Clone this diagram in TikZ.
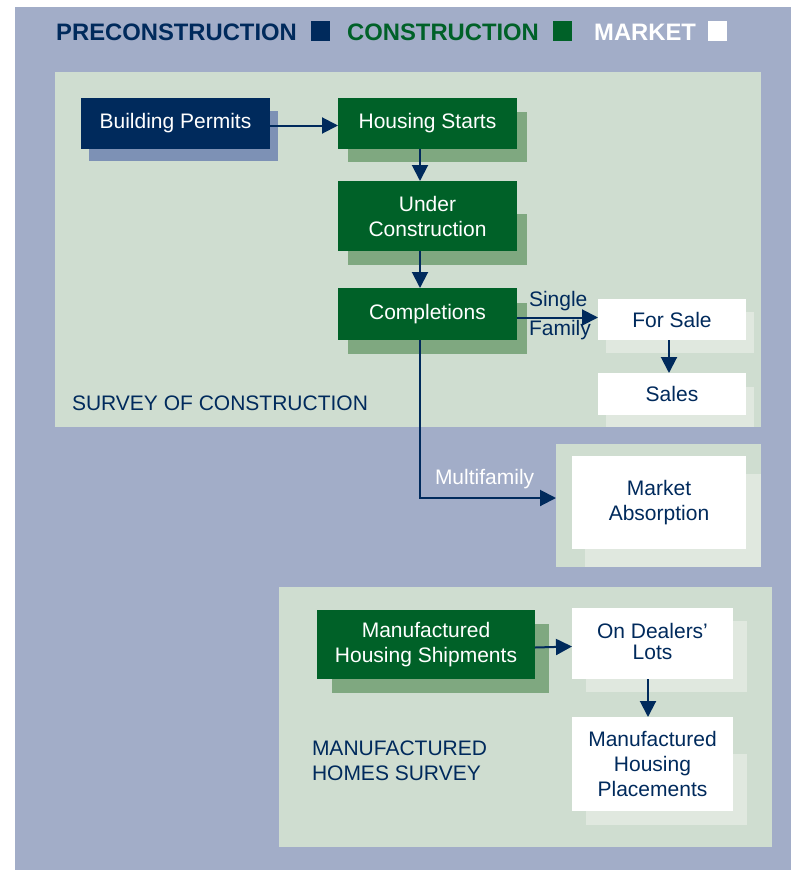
\documentclass[tikz,border=0pt]{standalone}
\usepackage{fontspec}
\setmainfont{Liberation Sans}
\usetikzlibrary{arrows.meta,calc}
\definecolor{navy}{HTML}{002A5C}
\definecolor{dkgreen}{HTML}{006128}
\definecolor{navysh}{HTML}{7D91B5}
\definecolor{greensh}{HTML}{7FA880}
\definecolor{whitesh}{HTML}{E0E8DF}
\definecolor{panel}{HTML}{CFDDD0}
\definecolor{bgblue}{HTML}{A2ADC8}
\tikzset{
  txt/.style={font=\fontsize{21}{25}\selectfont, inner sep=0pt, outer sep=0pt},
  box/.style={txt, rectangle, anchor=north west, align=center},
  navybox/.style={box, fill=navy, text=white},
  greenbox/.style={box, fill=dkgreen, text=white},
  whitebox/.style={box, fill=white, text=navy},
  panelbox/.style={rectangle, anchor=north west, fill=panel, inner sep=0pt, outer sep=0pt},
  legend/.style={font=\fontsize{23.8}{28}\selectfont\bfseries, inner sep=0pt, anchor=base west},
  sq/.style={rectangle, minimum width=19pt, minimum height=20pt, inner sep=0pt, anchor=north west},
  arr/.style={draw=navy, line width=2pt, -{Triangle[length=16pt,width=16pt]}},
}
\begin{document}
\begin{tikzpicture}[x=1pt,y=-1pt]
\useasboundingbox (0,0) rectangle (791,870);
\fill[white] (0,0) rectangle (791,870);
\fill[bgblue] (15,7) rectangle (791,870);

% legend
\node[legend, text=navy] (lpre) at (56,40) {PRECONSTRUCTION};
\node[sq, fill=navy] (sqpre) at (311,21) {};
\node[legend, text=dkgreen] (lcon) at (347,40) {CONSTRUCTION};
\node[sq, fill=dkgreen] (sqcon) at (553,21) {};
\node[legend, text=white] (lmar) at (594,40) {MARKET};
\node[sq, fill=white] (sqmar) at (708,21) {};

% panels
\node[panelbox, minimum width=706pt, minimum height=355pt] (socpanel) at (55,72) {};
\node[panelbox, minimum width=205pt, minimum height=123pt] (mapanel) at (556,444) {};
\node[panelbox, minimum width=493pt, minimum height=260pt] (mhpanel) at (279,587) {};

% shadows
\fill[navysh] (89,111) rectangle (278,161);
\fill[greensh] (348,112) rectangle (527,162);
\fill[greensh] (348,214) rectangle (527,265);
\fill[greensh] (348,303) rectangle (527,354);
\fill[whitesh] (606,312) rectangle (754,353);
\fill[whitesh] (606,387) rectangle (754,427);
\fill[whitesh] (585,474) rectangle (761,567);
\fill[greensh] (332,624) rectangle (549,693);
\fill[whitesh] (586,621) rectangle (747,692);
\fill[whitesh] (586,754) rectangle (747,825);

% boxes
\node[navybox, minimum width=189pt, minimum height=51pt] (bp) at (81,98) {Building Permits};
\node[greenbox, minimum width=179pt, minimum height=51pt] (hs) at (338,98) {Housing Starts};
\node[greenbox, minimum width=179pt, minimum height=70pt] (uc) at (338,181) {Under\\Construction};
\node[greenbox, minimum width=179pt, minimum height=52pt] (comp) at (338,288) {Completions};
\node[whitebox, minimum width=148pt, minimum height=41pt] (fs) at (598,299) {For Sale};
\node[whitebox, minimum width=148pt, minimum height=42pt] (sales) at (598,373) {Sales};
\node[whitebox, minimum width=174pt, minimum height=93pt] (ma) at (572,456) {Market\\Absorption};
\node[greenbox, minimum width=218pt, minimum height=69pt] (mhs) at (317,610) {Manufactured\\Housing Shipments};
\node[whitebox, minimum width=161pt, minimum height=71pt] (odl) at (572,608) {\raisebox{4pt}{\shortstack{On Dealers'\\[4pt]Lots}}};
\node[whitebox, minimum width=161pt, minimum height=94pt] (mhp) at (572,717) {Manufactured\\Housing\\Placements};

% labels
\node[txt, text=navy, anchor=west] (soc) at (72,403) {SURVEY OF CONSTRUCTION};
\node[txt, text=navy, anchor=west, align=left] (mhsv) at (312,760.5) {MANUFACTURED\\HOMES SURVEY};
\node[txt, text=navy, anchor=west] (single) at (529,301) {Single};
\node[txt, text=navy, anchor=west] (family) at (529,330) {Family};
\node[txt, text=white, anchor=west] (multi) at (435,479) {Multifamily};

% connectors
\draw[arr] ([yshift=-2pt]bp.east) -- ([yshift=-2pt]hs.west);
\draw[arr] ([xshift=-7.5pt]hs.south) -- ([xshift=-7.5pt]uc.north);
\draw[arr] ([xshift=-7.5pt]uc.south) -- ([xshift=-7.5pt]comp.north);
\draw[arr] ([yshift=2pt]comp.east |- fs.west) -- ([yshift=2pt]fs.west);
\draw[arr] ([xshift=-3pt]fs.south) -- ([xshift=-3pt]sales.north);
\draw[arr] ([xshift=-7.5pt]comp.south) |- ([yshift=7.5pt]mapanel.west);
\draw[arr] ([yshift=-3pt]mhs.east) -- ([yshift=-3pt]odl.west);
\draw[arr] ([xshift=-4.5pt]odl.south) -- ([xshift=-4.5pt]mhp.north);
\end{tikzpicture}
\end{document}
